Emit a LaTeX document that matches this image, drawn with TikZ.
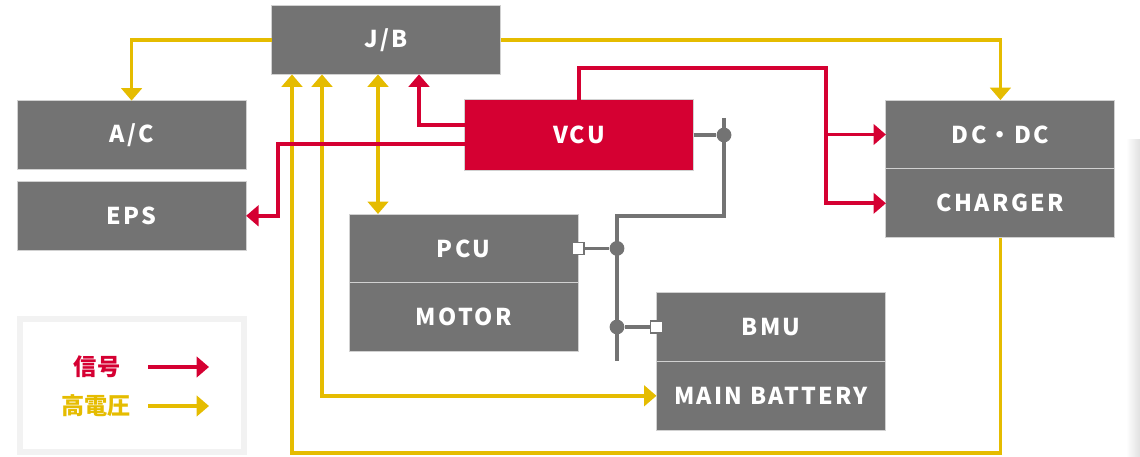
\documentclass[tikz,border=0pt]{standalone}
\usepackage{fontspec}
\setmainfont{Noto Sans CJK JP}
\usepackage{xcolor}
\usepackage{tikz}
\usetikzlibrary{arrows.meta,positioning,calc}
\definecolor{boxgray}{RGB}{115,115,115}
\definecolor{sigred}{RGB}{213,0,50}
\definecolor{hvyellow}{RGB}{229,188,0}

\begin{document}
\begin{tikzpicture}[
    font=\fontsize{16.5}{18}\selectfont\bfseries,
    >={Triangle[length=0.31cm,width=0.51cm]},
    box/.style={draw=black!18,line width=0.6pt,fill=boxgray,text=white,
        font=\fontsize{16.5}{18}\selectfont\bfseries\addfontfeature{LetterSpace=10},
        minimum width=5.725cm,minimum height=1.72cm,inner sep=0pt,outer sep=0pt},
    sig/.style={->,line width=2.7pt,draw=sigred},
    hv/.style={->,line width=2.7pt,draw=hvyellow},
    bus/.style={line width=2.7pt,draw=boxgray},
    joint/.style={circle,fill=boxgray,minimum size=0.37cm,inner sep=0pt},
    port/.style={draw=boxgray,fill=white,line width=1.2pt,minimum size=0.3cm,inner sep=0pt},
    keybox/.style={draw=black!5,line width=0.15cm,minimum width=5.6cm,minimum height=3.325cm}
]
\useasboundingbox (0,0) rectangle (28.5,11.4);
\shade[left color=white,right color=black!12] (28.15,0) rectangle (28.5,7.9);

\node[box] (jb) at (9.66,10.4) {J/B};
\node[box] (ac) at (3.29,8.025) {A/C};
\node[box,below=0.3cm of ac] (eps) {EPS};
\node[box,fill=sigred,minimum height=1.77cm] (vcu) at (14.475,8.025) {VCU};
\node[box] (pcu) at (11.59,5.19) {PCU};
\node[box,below=0pt of pcu] (motor) {MOTOR};
\node[box] (bmu) at (19.275,3.225) {BMU};
\node[box,below=0pt of bmu] (battery) {MAIN BATTERY};
\node[box] (dcdc) at (25.01,8.0375) {DC・DC};
\node[box,below=0pt of dcdc] (charger) {CHARGER};

\coordinate (colE) at (6.95,0);
\coordinate (colS) at (7.3,0.075);
\coordinate (colB) at (8.05,0);
\coordinate (colP) at (9.45,0);
\coordinate (colR) at (10.475,0);
\coordinate (rtop) at (20.65,9.7);
\coordinate (bustop) at (18.1,8.45);
\coordinate (busknee) at (15.425,6.0);
\coordinate (busend) at (15.425,2.375);

\draw[hv] (jb.west) -| (ac.north);
\draw[hv] (jb.east) -| (dcdc.north);
\draw[hv,<->] (jb.south -| colP) -- (pcu.north -| colP);
\draw[hv,<->] (jb.south -| colB) |- (battery.west);
\draw[hv] (charger.south) |- (colS) -- (jb.south -| colS);

\draw[sig] ([yshift=0.25cm]vcu.west) -| (jb.south -| colR);
\draw[sig] ([yshift=-0.225cm]vcu.west) -| (eps.east -| colE) -- (eps.east);
\draw[sig] (vcu.north) |- (rtop) |- (dcdc.west);
\draw[sig] (rtop) |- (charger.west);

\node[joint] (vj) at (vcu.east -| bustop) {};
\node[joint] (pj) at (pcu.east -| busend) {};
\node[joint] (bj) at (bmu.west -| busend) {};
\draw[bus] (vcu.east) -- (vj);
\draw[bus] (bustop) |- (busknee) -- (busend);
\draw[bus] (pcu.east) -- (pj);
\draw[bus] (bmu.west) -- (bj);
\node[port] (pcuport) at (pcu.east) {};
\node[port] (bmuport) at (bmu.west) {};

\node[keybox] (legend) at (3.3,1.7625) {};
\node[text=sigred] (sigkey) at (2.425,2.225) {信号};
\node[text=hvyellow] (hvkey) at (2.4,1.25) {高電圧};
\coordinate (keystart) at (3.7,0);
\coordinate (keyend) at (5.225,0);
\draw[sig] (sigkey -| keystart) -- (sigkey -| keyend);
\draw[hv] (hvkey -| keystart) -- (hvkey -| keyend);
\end{tikzpicture}
\end{document}
